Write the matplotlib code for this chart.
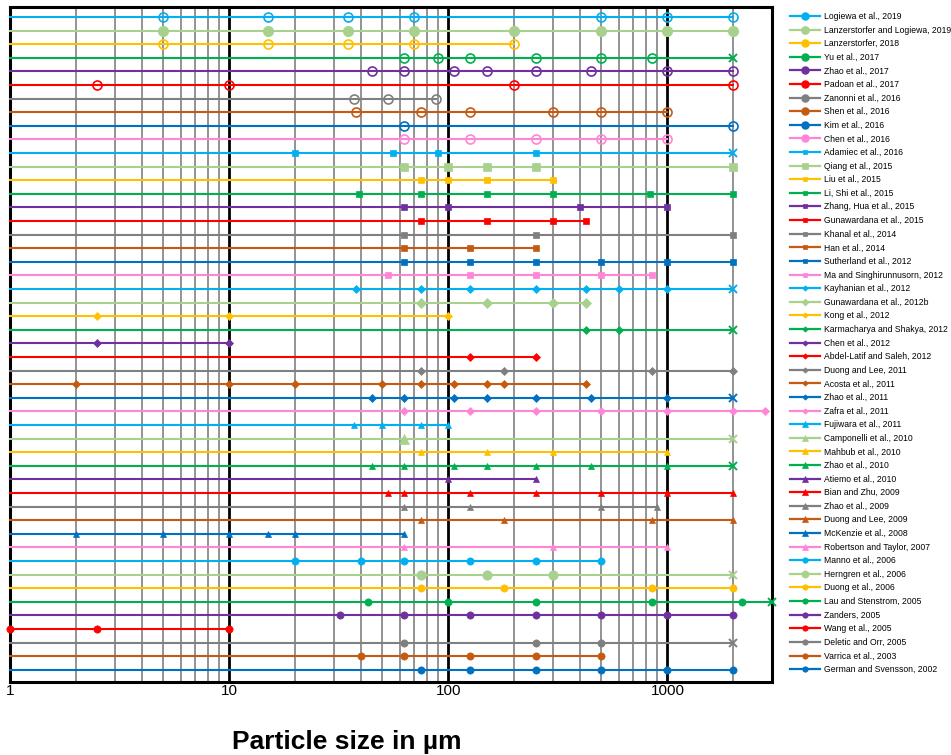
import matplotlib
matplotlib.use("Agg")
import matplotlib.pyplot as plt
from matplotlib.lines import Line2D
from matplotlib.ticker import FixedLocator, NullFormatter, FixedFormatter

plt.rcParams['font.family'] = ['Liberation Sans', 'DejaVu Sans']

# studies, top to bottom
labels = [
    "Logiewa et al., 2019", "Lanzerstorfer and Logiewa, 2019", "Lanzerstorfer, 2018",
    "Yu et al., 2017", "Zhao et al., 2017", "Padoan et al., 2017", "Zanonni et al., 2016",
    "Shen et al., 2016", "Kim et al., 2016", "Chen et al., 2016", "Adamiec et al., 2016",
    "Qiang et al., 2015", "Liu et al., 2015", "Li, Shi et al., 2015", "Zhang, Hua et al., 2015",
    "Gunawardana et al., 2015", "Khanal et al., 2014", "Han et al., 2014",
    "Sutherland et al., 2012", "Ma and Singhirunnusorn, 2012", "Kayhanian et al., 2012",
    "Gunawardana et al., 2012b", "Kong et al., 2012", "Karmacharya and Shakya, 2012",
    "Chen et al., 2012", "Abdel-Latif and Saleh, 2012", "Duong and Lee, 2011",
    "Acosta et al., 2011", "Zhao et al., 2011", "Zafra et al., 2011", "Fujiwara et al., 2011",
    "Camponelli et al., 2010", "Mahbub et al., 2010", "Zhao et al., 2010", "Atiemo et al., 2010",
    "Bian and Zhu, 2009", "Zhao et al., 2009", "Duong and Lee, 2009", "McKenzie et al., 2008",
    "Robertson and Taylor, 2007", "Manno et al., 2006", "Herngren et al., 2006",
    "Duong et al., 2006", "Lau and Stenstrom, 2005", "Zanders, 2005", "Wang et al., 2005",
    "Deletic and Orr, 2005", "Varrica et al., 2003", "German and Svensson, 2002",
]

# size class limits (um) for each study
sizes = [
    [5, 15, 35, 70, 500, 1000, 2000],
    [5, 15, 35, 70, 200, 500, 1000, 2000],
    [5, 15, 35, 70, 200],
    [63, 90, 125, 250, 500, 850],
    [45, 63, 106, 150, 250, 450, 1000, 2000],
    [2.5, 10, 200, 2000],
    [37, 53, 88],
    [38, 75, 125, 300, 500, 1000],
    [63, 2000],
    [63, 125, 250, 500, 1000],
    [20, 56, 90, 250],
    [63, 100, 150, 250, 2000],
    [75, 100, 150, 300],
    [39, 75, 150, 300, 830, 2000],
    [63, 100, 400, 1000],
    [75, 150, 300, 425],
    [63, 250, 2000],
    [63, 125, 250],
    [63, 125, 250, 500, 1000, 2000],
    [53, 125, 250, 500, 850],
    [38, 75, 125, 250, 425, 600, 1000],
    [75, 150, 300, 425],
    [2.5, 10, 100],
    [425, 600],
    [2.5, 10],
    [125, 250],
    [75, 180, 850, 2000],
    [2, 10, 20, 50, 75, 106, 150, 180, 425],
    [45, 63, 106, 150, 250, 450, 1000],
    [63, 125, 250, 500, 1000, 2000, 2800],
    [37, 50, 75, 100],
    [63],
    [75, 150, 300, 1000],
    [45, 63, 106, 150, 250, 450, 1000],
    [100, 250],
    [53, 63, 125, 250, 500, 1000, 2000],
    [63, 125, 500, 900],
    [75, 180, 850, 2000],
    [2, 5, 10, 15, 20, 63],
    [63, 300, 1000],
    [20, 40, 63, 125, 250, 500],
    [75, 150, 300],
    [75, 180, 850, 2000],
    [43, 100, 250, 850, 2200],
    [32, 63, 125, 250, 500, 1000, 2000],
    [1, 2.5, 10],
    [63, 250, 500],
    [40, 63, 125, 250, 500],
    [75, 125, 250, 500, 1000, 2000],
]

# open upper class (drawn as x), None if closed
upper_open = [
    None, None, None, 2000, None, None, None, None, None, None,
    2000, None, None, None, None, None, None, None, None, None,
    2000, None, None, 2000, None, None, None, None, 2000, None,
    None, 2000, None, 2000, None, None, None, None, None, None,
    None, 2000, None, 3000, None, None, 2000, None, None,
]

colors = ['#00B0F0', '#A9D18E', '#FFC000', '#00B050', '#7030A0',
          '#FF0000', '#7F7F7F', '#C55A11', '#0070C0', '#FF85D6']

major_ticks = [1, 10, 100, 1000]
XMIN, XMAX = 1, 3000


def marker_style(i, c):
    group = i // 10
    big = 1.3 if i % 10 == 1 else 1.0
    if group == 0:
        if i % 10 == 1:
            return dict(marker='o', ms=6 * big * 0.9, mfc=c, mec=c, mew=1.0)
        return dict(marker='o', ms=6.5, mfc='none', mec=c, mew=1.2)
    if group == 1:
        return dict(marker='s', ms=4.2 * big, mfc=c, mec=c, mew=0.5)
    if group == 2:
        return dict(marker='D', ms=3.6 * big, mfc=c, mec=c, mew=0.5)
    if group == 3:
        return dict(marker='^', ms=5 * big, mfc=c, mec=c, mew=0.5)
    return dict(marker='o', ms=5.2 * big, mfc=c, mec=c, mew=0.5)


fig = plt.figure(figsize=(9.51, 7.55), dpi=100)
ax = fig.add_axes([10 / 951, 73.5 / 755, 762 / 951, 675 / 755])

n = len(labels)
handles = []
for i, (lab, pts, up) in enumerate(zip(labels, sizes, upper_open)):
    y = n - i
    c = colors[i % 10]
    st = marker_style(i, c)
    right = up if up else max(pts)
    ax.plot([XMIN, right], [y, y], color=c, lw=1.5, zorder=3, clip_on=False)
    ax.plot(pts, [y] * len(pts), linestyle='none', zorder=4, clip_on=False, **st)
    if up:
        ax.plot([up], [y], linestyle='none', marker='x', ms=6, mew=1.4,
                color=c, zorder=4, clip_on=False)
    hst = dict(st)
    hst['ms'] = hst['ms'] * 0.75
    if hst['mfc'] == 'none':
        hst['mfc'] = c
    handles.append(Line2D([], [], color=c, lw=1.6, **hst))

ax.set_xscale('log')
ax.set_xlim(XMIN, XMAX)
ax.set_ylim(0.14, n + 0.78)

ax.xaxis.set_major_locator(FixedLocator(major_ticks))
ax.xaxis.set_major_formatter(FixedFormatter([str(t) for t in major_ticks]))
minor = [m * d for d in major_ticks for m in range(2, 10) if m * d <= XMAX]
ax.xaxis.set_minor_locator(FixedLocator(minor))
ax.xaxis.set_minor_formatter(NullFormatter())
ax.set_yticks([])
ax.tick_params(axis='x', which='both', length=0, pad=2, labelsize=11)

ax.grid(True, axis='x', which='major', color='black', lw=2.0, zorder=1)
ax.grid(True, axis='x', which='minor', color='#808080', lw=1.2, zorder=1)
ax.set_axisbelow(True)
for s in ax.spines.values():
    s.set_linewidth(2.2)
    s.set_color('black')

fig.text(347 / 951, 1 - 742 / 755, "Particle size in µm", fontsize=19,
         fontweight='bold', ha='center', va='center')

fig.legend(handles, labels, loc='upper left',
           bbox_to_anchor=(790 / 951, 1 - 12 / 755), bbox_transform=fig.transFigure,
           frameon=False, borderaxespad=0, borderpad=0, fontsize=6.2,
           handlelength=3.5, handletextpad=0.4, labelspacing=0.535, numpoints=1)

fig.savefig("out.png", dpi=100)
